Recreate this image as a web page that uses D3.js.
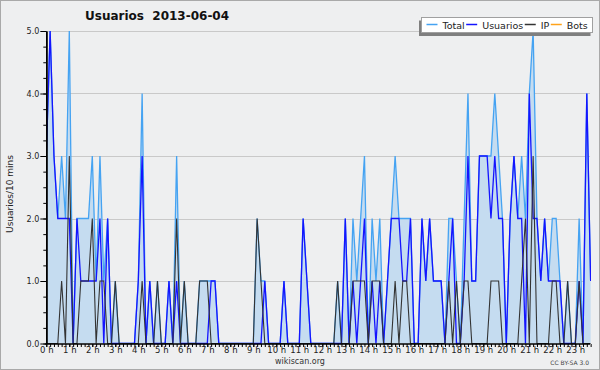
<!DOCTYPE html>
<html><head><meta charset="utf-8">
<script src="https://cdn.jsdelivr.net/npm/d3@7"></script>
<style>
html,body{margin:0;padding:0;background:#eeeff0;}
svg{display:block;font-family:"DejaVu Sans",sans-serif;}
</style>
</head><body>
<svg id="chart" width="600" height="370"></svg>
<script>
// ---- data ----
const chartTitle = "Usuarios  2013-06-04";
const yAxisTitle = "Usuarios/10 mins";
const seriesNames = ["Total", "Usuarios", "IP", "Bots"];
const hourLabels = ["0 h","1 h","2 h","3 h","4 h","5 h","6 h","7 h","8 h","9 h","10 h","11 h",
  "12 h","13 h","14 h","15 h","16 h","17 h","18 h","19 h","20 h","21 h","22 h","23 h"];
const yTickValues = [0, 1, 2, 3, 4, 5];
// one value per 10-minute slot, starting 0:00
const total = [
  3,5,3,2,3,2,5,0,2,2, 2,2,3,1,3,1,2,0,1,0, 0,0,0,0,1,4,0,1,0,1, 0,0,1,0,3,0,1,0,0,0,
  1,1,1,1,1,0,0,0,0,0, 0,0,0,0,0,2,1,1,0,0, 0,0,1,0,0,0,0,2,1,0, 0,0,0,0,0,0,1,0,2,0,
  2,1,2,3,0,2,1,2,0,1, 2,3,2,2,2,2,0,0,2,1, 2,1,1,1,0,2,2,1,0,2, 4,1,1,3,3,3,3,4,3,2,
  0,2,3,2,3,2,4,5,2,1, 2,1,2,2,1,0,1,0,0,2, 0,4,1];
const usuarios = [
  3,5,3,2,2,2,2,0,2,1, 1,1,1,1,2,0,2,0,0,0, 0,0,0,0,1,3,0,1,0,0, 0,0,1,0,1,0,0,0,0,0,
  0,0,0,1,1,0,0,0,0,0, 0,0,0,0,0,0,0,1,0,0, 0,0,1,0,0,0,0,2,1,0, 0,0,0,0,0,0,0,0,2,0,
  1,0,1,2,0,1,0,1,0,1, 2,2,2,1,1,2,0,0,2,1, 2,1,1,1,0,1,2,0,0,1, 3,1,1,3,3,3,2,3,2,2,
  0,2,3,2,2,0,4,2,2,1, 2,1,1,1,1,0,0,0,0,1, 0,4,1];
const ip = [
  0,0,0,0,1,0,3,0,0,1, 1,1,2,0,1,1,0,0,1,0, 0,0,0,0,0,1,0,0,0,1, 0,0,0,0,2,0,1,0,0,0,
  1,1,1,0,0,0,0,0,0,0, 0,0,0,0,0,2,1,0,0,0, 0,0,0,0,0,0,0,0,0,0, 0,0,0,0,0,0,1,0,0,0,
  1,1,1,1,0,1,1,1,0,0, 0,1,0,1,1,0,0,0,0,0, 0,0,0,0,0,1,0,1,0,1, 1,0,0,0,0,0,1,1,1,0,
  0,0,0,0,1,2,0,3,0,0, 0,0,1,1,0,0,1,0,0,1, 0,0,0];
const bots = [
  0,0,0,0,0,0,0,0,0,0, 0,0,0,0,0,0,0,0,0,0, 0,0,0,0,0,0,0,0,0,0, 0,0,0,0,0,0,0,0,0,0,
  0,0,0,0,0,0,0,0,0,0, 0,0,0,0,0,0,0,0,0,0, 0,0,0,0,0,0,0,0,0,0, 0,0,0,0,0,0,0,0,0,0,
  0,0,0,0,0,0,0,0,0,0, 0,0,0,0,0,0,0,0,0,0, 0,0,0,0,0,0,0,0,0,0, 0,0,0,0,0,0,0,0,0,0,
  0,0,0,0,0,0,0,0,0,0, 0,0,0,0,0,0,0,0,0,0, 0,0,0];
const seriesColors = ["#45a3f2", "#1414ff", "#333333", "#ffa31a"];

// ---- layout ----
const W = 600, H = 370;
const plotLeft = 46.3, plotRight = 590, plotTop = 31, plotBottom = 343.5;
const svg = d3.select("#chart");

svg.append("rect").attr("x", 0.5).attr("y", 0.5).attr("width", W - 1).attr("height", H - 1)
  .attr("fill", "#eeeff0").attr("stroke", "#a9a9a9");

// slot index (10 min) -> x
const x = d3.scaleLinear().domain([0, 144]).range([plotLeft, plotLeft + 552]);
const y = d3.scaleLinear().domain([0, 5]).range([plotBottom, plotTop]);

// grid
svg.append("g").selectAll("line").data(yTickValues.filter(v => v > 0)).join("line")
  .attr("x1", plotLeft).attr("x2", plotRight)
  .attr("y1", d => Math.round(y(d)) + 0.5).attr("y2", d => Math.round(y(d)) + 0.5)
  .attr("stroke", "#c9c9c9").attr("stroke-width", 1);

const idx = d3.range(total.length);
svg.append("clipPath").attr("id", "clip").append("rect")
  .attr("x", plotLeft).attr("y", 0).attr("width", plotRight - plotLeft + 1).attr("height", plotBottom + 1);
const plot = svg.append("g").attr("clip-path", "url(#clip)");

const area = d3.area().x(i => x(i)).y0(y(0)).y1(i => y(total[i]));
plot.append("path").datum(idx).attr("d", area).attr("fill", "#c5dcf0");

function drawLine(arr, color, w) {
  plot.append("path").datum(idx)
    .attr("d", d3.line().x(i => x(i)).y(i => y(arr[i])))
    .attr("fill", "none").attr("stroke", color).attr("stroke-width", w)
    .attr("stroke-linejoin", "miter");
}
drawLine(total, seriesColors[0], 1.3);
drawLine(usuarios, seriesColors[1], 1.3);
drawLine(ip, seriesColors[2], 1.1);

// y axis
const yMinor = svg.append("g").attr("transform", `translate(${plotLeft},0)`)
  .call(d3.axisLeft(y).tickValues(d3.range(0, 21).map(k => k / 4)).tickSize(3).tickSizeOuter(0).tickFormat(""));
const yMajor = svg.append("g").attr("transform", `translate(${plotLeft},0)`)
  .call(d3.axisLeft(y).tickValues(yTickValues).tickSize(6).tickSizeOuter(0).tickPadding(1).tickFormat(d3.format(".1f")));
[yMinor, yMajor].forEach(g => {
  g.select(".domain").attr("stroke", "#000").attr("stroke-width", 1.5);
  g.selectAll(".tick line").attr("stroke", "#000");
});
yMajor.selectAll("text").attr("font-size", 8).attr("fill", "#222").attr("font-family", "DejaVu Sans");

// x axis
const xMinor = svg.append("g").attr("transform", `translate(0,${plotBottom + 0.5})`)
  .call(d3.axisBottom(x).tickValues(idx).tickSize(3).tickSizeOuter(0).tickFormat(""));
xMinor.select(".domain").remove();
xMinor.selectAll(".tick line").attr("stroke", "#000");
svg.append("line").attr("x1", plotLeft - 1).attr("x2", plotRight).attr("y1", plotBottom + 0.5).attr("y2", plotBottom + 0.5)
  .attr("stroke", "#000").attr("stroke-width", 1.5);
const xHours = svg.append("g").attr("transform", `translate(0,${plotBottom + 0.5})`)
  .call(d3.axisBottom(x).tickValues(hourLabels.map((_, h) => h * 6)).tickSize(3).tickSizeOuter(0).tickPadding(0)
    .tickFormat((d, k) => hourLabels[k]));
xHours.select(".domain").remove();
xHours.selectAll(".tick line").attr("stroke", "#000");
xHours.selectAll("text").attr("font-size", 8.5).attr("fill", "#222").attr("font-family", "DejaVu Sans");

// titles
svg.append("text").attr("x", 85).attr("y", 20).attr("font-size", 12).attr("font-weight", "bold")
  .attr("fill", "#111").style("white-space", "pre").text(chartTitle);
svg.append("text").attr("transform", "translate(13,194) rotate(-90)").attr("text-anchor", "middle")
  .attr("font-size", 9).attr("fill", "#222").text(yAxisTitle);
svg.append("text").attr("x", 300).attr("y", 364).attr("text-anchor", "middle")
  .attr("font-size", 8).attr("fill", "#333").text("wikiscan.org");
svg.append("text").attr("x", 589).attr("y", 365).attr("text-anchor", "end")
  .attr("font-size", 6).attr("fill", "#444").text("CC BY-SA 3.0");

// legend
const lg = svg.append("g");
lg.append("rect").attr("x", 419).attr("y", 20.5).attr("width", 171.5).attr("height", 15.5).attr("fill", "#7f7f7f");
lg.append("rect").attr("x", 421.5).attr("y", 17.5).attr("width", 171).attr("height", 15)
  .attr("fill", "#fff").attr("stroke", "#a0a0a0");
let cx = 426.5;
seriesNames.forEach((name, k) => {
  lg.append("line").attr("x1", cx).attr("x2", cx + 11).attr("y1", 24.5).attr("y2", 24.5)
    .attr("stroke", seriesColors[k]).attr("stroke-width", 1.5);
  const t = lg.append("text").attr("x", cx + 16).attr("y", 28.5).attr("font-size", 9.5).attr("fill", "#222").text(name);
  cx += 16 + t.node().getComputedTextLength() + 1.5;
});
</script>
</body></html>
